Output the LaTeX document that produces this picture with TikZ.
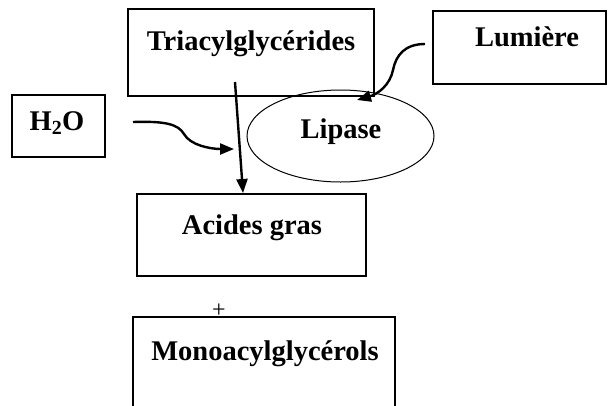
\documentclass[tikz,border=0pt]{standalone}
\usepackage{fontspec}
\setmainfont{Liberation Serif}
\usetikzlibrary{arrows.meta,shapes.geometric}

\tikzset{
  box/.style={draw, line width=1.3pt, rectangle, inner sep=0pt},
  txt/.style={anchor=base, inner sep=0pt, font=\fontsize{28.5}{32}\selectfont\bfseries},
  fleche/.style={line width=2.4pt, -{Triangle[length=14pt,width=11pt]}}
}

\begin{document}
\begin{tikzpicture}[x=1pt,y=-1pt]
\useasboundingbox (0,0) rectangle (608,405);
\clip (0,0) rectangle (608,405);

% boites
\node[box, minimum width=246pt, minimum height=87pt] (tri) at (251,52.5) {};
\node[box, minimum width=173pt, minimum height=73pt] (lum) at (519.5,47.5) {};
\node[box, minimum width=93pt, minimum height=62pt] (eau) at (58.5,126) {};
\node[box, minimum width=229pt, minimum height=82pt] (ag) at (251.5,235) {};
\node[box, minimum width=262pt, minimum height=120pt] (mag) at (264,377) {};
\node[draw, ellipse, line width=1pt, inner sep=0pt, minimum width=187pt, minimum height=92pt] (lip) at (340.5,136) {};

% textes
\draw (251,50) node[txt] (tritxt) {Triacylglycérides};
\draw (527,46) node[txt] (lumtxt) {Lumière};
\draw (57,130) node[txt] (eautxt) {H\textsubscript{2}O};
\draw (341,138) node[txt] (liptxt) {Lipase};
\draw (252,234) node[txt] (agtxt) {Acides gras};
\draw (265,360) node[txt] (magtxt) {Monoacylglycérols};
\draw (219,311) node[inner sep=0pt, font=\fontsize{24}{26}\selectfont] (plus) {+};

% fleches
\coordinate (hyd0) at (235,82);
\coordinate (hyd1) at (243,193);
\coordinate (eau0) at (133,122);
\coordinate (eau1) at (234,149);
\coordinate (lum0) at (425,44);
\coordinate (lum1) at (357,100);
\draw[fleche] (hyd0) -- (hyd1);
\draw[fleche] (eau0) .. controls (165,121) and (178,124) .. (184,134)
  .. controls (190,145) and (210,149) .. (eau1);
\draw[fleche] (lum0) .. controls (405,44) and (396,55) .. (393,70)
  .. controls (390,85) and (378,94) .. (lum1);
\end{tikzpicture}
\end{document}
